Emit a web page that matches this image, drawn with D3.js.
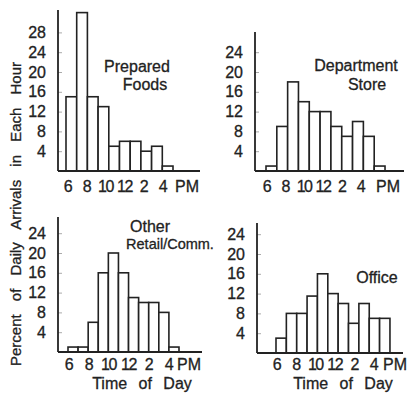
<!DOCTYPE html>
<html>
<head>
<meta charset="utf-8">
<script src="https://cdn.jsdelivr.net/npm/d3@7"></script>
<style>
  html, body { margin: 0; padding: 0; background: #fff; }
  svg { display: block; }
  text { font-family: "Liberation Sans", Arial, sans-serif; fill: #222; stroke: #222; stroke-width: 0.3px; }
</style>
</head>
<body>
<svg id="chart" width="413" height="394"></svg>
<script>
// Hourly arrival shares (percent of daily arrivals) by land use, starting at 6 AM
const startHour = 6;
const preparedFoods = [15, 32, 15, 13, 5, 6, 6, 4, 5, 1];
const departmentStore = [1, 9, 18, 14, 12, 12, 9, 7, 10, 7, 1];
const otherRetail = [1, 1, 6, 16, 20, 16, 11, 10, 10, 8, 1];
const office = [3, 8, 8, 11.5, 16, 12, 10, 6, 10, 7, 7];

const xTickHours = [6, 8, 10, 12, 14, 16];
const xTickLabels = ["6", "8", "10", "12", "2", "4"];
const yTicksTall = [4, 8, 12, 16, 20, 24, 28];
const yTicksShort = [4, 8, 12, 16, 20, 24];

const yTitle = "Percent of Daily Arrivals in Each Hour";
const xTitle = "Time of Day";

// Panel layout (pixels). The hour lettering under each panel is set a little
// tighter than the bars, so it gets its own span (labelX) and PM position.
const panels = [
  { values: preparedFoods, name: ["Prepared", "Foods"], yTicks: yTicksTall,
    axisX: 58, firstX: 66, barW: 10.7, endX: 200, base: 171, topY: 10,
    labelX: [67, 162], pmX: 187, tickY: 192,
    nameX: [137, 145], nameY: [72, 90], nameSize: [16, 16], xTitle: false },
  { values: departmentStore, name: ["Department", "Store"], yTicks: yTicksShort,
    axisX: 255, firstX: 266, barW: 10.82, endX: 404, base: 171, topY: 32,
    labelX: [266, 360], pmX: 388, tickY: 192,
    nameX: [356, 367], nameY: [71, 90], nameSize: [16, 16], xTitle: false },
  { values: otherRetail, name: ["Other", "Retail/Comm."], yTicks: yTicksShort,
    axisX: 58, firstX: 68, barW: 10.09, endX: 202, base: 352, topY: 217,
    labelX: [68, 168], pmX: 189, tickY: 370,
    nameX: [150, 170], nameY: [232, 249], nameSize: [16, 14.5], xTitle: true, titleX: 142 },
  { values: office, name: ["Office"], yTicks: yTicksShort,
    axisX: 257, firstX: 276, barW: 10.36, endX: 403, base: 353, topY: 223,
    labelX: [276, 373], pmX: 395, tickY: 370,
    nameX: [377], nameY: [283], nameSize: [16], xTitle: true, titleX: 343 }
];

const pxPerUnit = 4.95;
const ink = "#222";
const svg = d3.select("#chart");

panels.forEach(p => {
  const g = svg.append("g");
  const x = d3.scaleLinear()
    .domain([startHour, startHour + 1])
    .range([p.firstX, p.firstX + p.barW]);
  const y = d3.scaleLinear()
    .domain([0, 1])
    .range([p.base, p.base - pxPerUnit]);
  const xLabel = d3.scaleLinear()
    .domain([xTickHours[0], xTickHours[xTickHours.length - 1]])
    .range(p.labelX);

  // Bars: one per hour
  g.selectAll("rect.bar")
    .data(p.values)
    .join("rect")
    .attr("class", "bar")
    .attr("x", (d, i) => x(startHour + i))
    .attr("width", (d, i) => x(startHour + i + 1) - x(startHour + i))
    .attr("y", d => y(d))
    .attr("height", d => y(0) - y(d))
    .attr("fill", "#fff")
    .attr("stroke", ink)
    .attr("stroke-width", 1.6);

  // Y axis with small inward ticks
  const yAxis = d3.axisLeft(y)
    .tickValues(p.yTicks)
    .tickSize(-4)
    .tickPadding(12)
    .tickFormat(d3.format("d"));
  const ya = g.append("g")
    .attr("transform", `translate(${p.axisX},0)`)
    .call(yAxis);
  ya.select(".domain").remove();
  ya.selectAll(".tick line").attr("stroke", "#aaa").attr("stroke-width", 1);
  ya.selectAll(".tick text")
    .attr("font-size", 16)
    .attr("font-family", "Liberation Sans, Arial, sans-serif")
    .attr("fill", ink);

  // Axis lines
  g.append("line")
    .attr("x1", p.axisX).attr("x2", p.axisX)
    .attr("y1", p.topY).attr("y2", p.base)
    .attr("stroke", ink).attr("stroke-width", 1.8);
  g.append("line")
    .attr("x1", p.axisX).attr("x2", p.endX)
    .attr("y1", p.base).attr("y2", p.base)
    .attr("stroke", ink).attr("stroke-width", 1.8);

  // Hour labels
  const xAxis = d3.axisBottom(xLabel)
    .tickValues(xTickHours)
    .tickSize(0)
    .tickPadding(0)
    .tickFormat((d, i) => xTickLabels[i]);
  const xa = g.append("g")
    .attr("transform", `translate(0,${p.tickY})`)
    .call(xAxis);
  xa.select(".domain").remove();
  xa.selectAll(".tick text")
    .attr("dy", 0)
    .attr("font-size", 16)
    .attr("letter-spacing", -1.5)
    .attr("font-family", "Liberation Sans, Arial, sans-serif")
    .attr("fill", ink);

  g.append("text")
    .attr("x", p.pmX)
    .attr("y", p.tickY)
    .attr("text-anchor", "middle")
    .attr("font-size", 16)
    .text("PM");

  // Panel name
  p.name.forEach((line, i) => {
    g.append("text")
      .attr("x", p.nameX[i])
      .attr("y", p.nameY[i])
      .attr("text-anchor", "middle")
      .attr("font-size", p.nameSize[i])
      .text(line);
  });

  if (p.xTitle) {
    g.append("text")
      .attr("x", p.titleX)
      .attr("y", 389)
      .attr("text-anchor", "middle")
      .attr("font-size", 16)
      .attr("word-spacing", 7)
      .text(xTitle);
  }
});

// Shared y-axis title
svg.append("text")
  .attr("transform", "translate(21,214) rotate(-90)")
  .attr("text-anchor", "middle")
  .attr("font-size", 15)
  .attr("word-spacing", 9)
  .text(yTitle);
</script>
</body>
</html>
